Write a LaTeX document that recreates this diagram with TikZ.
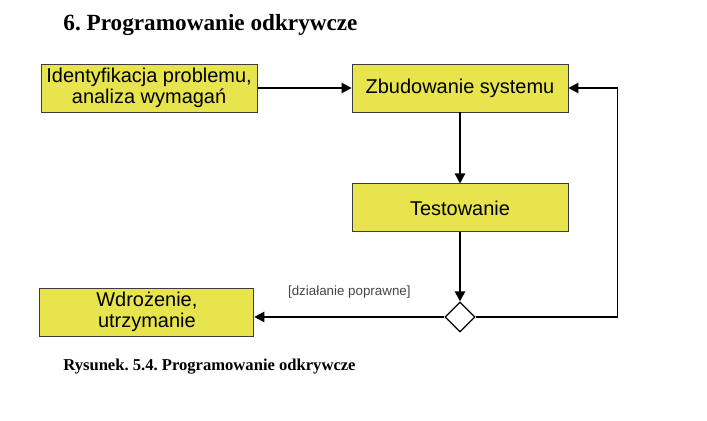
\documentclass[tikz,border=0pt]{standalone}
\usepackage{fontspec}
\setmainfont{Liberation Serif}
\newfontfamily\boxfont{Liberation Sans}
\usepackage{tikz}
\usetikzlibrary{shapes.geometric, arrows.meta, positioning}
\usepackage{xcolor}
\definecolor{zolty}{RGB}{231,228,78}
\definecolor{ramka}{RGB}{60,60,60}
\definecolor{opis}{RGB}{70,70,70}
\tikzset{
  etap/.style={rectangle, draw=ramka, line width=0.6pt, fill=zolty,
               minimum width=5.4cm, minimum height=1.2cm, inner sep=1pt,
               align=center, font=\boxfont\fontsize{14.2}{15}\selectfont},
  decyzja/.style={diamond, draw=black, line width=0.9pt, fill=white,
                  minimum width=0.75cm, minimum height=0.75cm, inner sep=0pt},
  strzalka/.style={-{Triangle[length=2.5mm, width=2.6mm]}, line width=1pt}
}

\begin{document}
\frenchspacing
\begin{tikzpicture}[x=0.025cm, y=-0.025cm]
    \useasboundingbox (0,0) rectangle (707,420);
    \node[font=\bfseries\fontsize{16.5}{18}\selectfont] (tytul) at (210.5,25)
      {6. Programowanie odkrywcze};
    \node[etap] (zbud) at (460,88) {Zbudowanie systemu};
    \node[etap, left=2.35cm of zbud] (ident)
      {Identyfikacja problemu,\\ analiza wymagań};
    \node[etap, below=1.775cm of zbud] (test) {Testowanie};
    \node[decyzja, below=1.725cm of test] (dec) {};
    \node[etap, minimum width=5.35cm, left=4.75cm of dec, yshift=0.125cm] (wdroz)
      {Wdrożenie,\\ utrzymanie};
    \path (dec.east) ++(142,0) coordinate (zwrot);
    \node[font=\bfseries\fontsize{11.8}{13}\selectfont] (podpis) at (209.5,367)
      {Rysunek. 5.4. Programowanie odkrywcze};
    \draw[strzalka] (ident) -- (zbud);
    \draw[strzalka] (zbud)  -- (test);
    \draw[strzalka] (test)  -- (dec);
    \draw[strzalka] (dec) -- node[midway, yshift=0.625cm,
      font=\boxfont\fontsize{9.5}{11}\selectfont, text=opis]
      {[działanie poprawne]} (dec -| wdroz.east);
    \draw[strzalka] (dec.east) -- (zwrot) |- (zbud.east);
  \end{tikzpicture}
\end{document}
